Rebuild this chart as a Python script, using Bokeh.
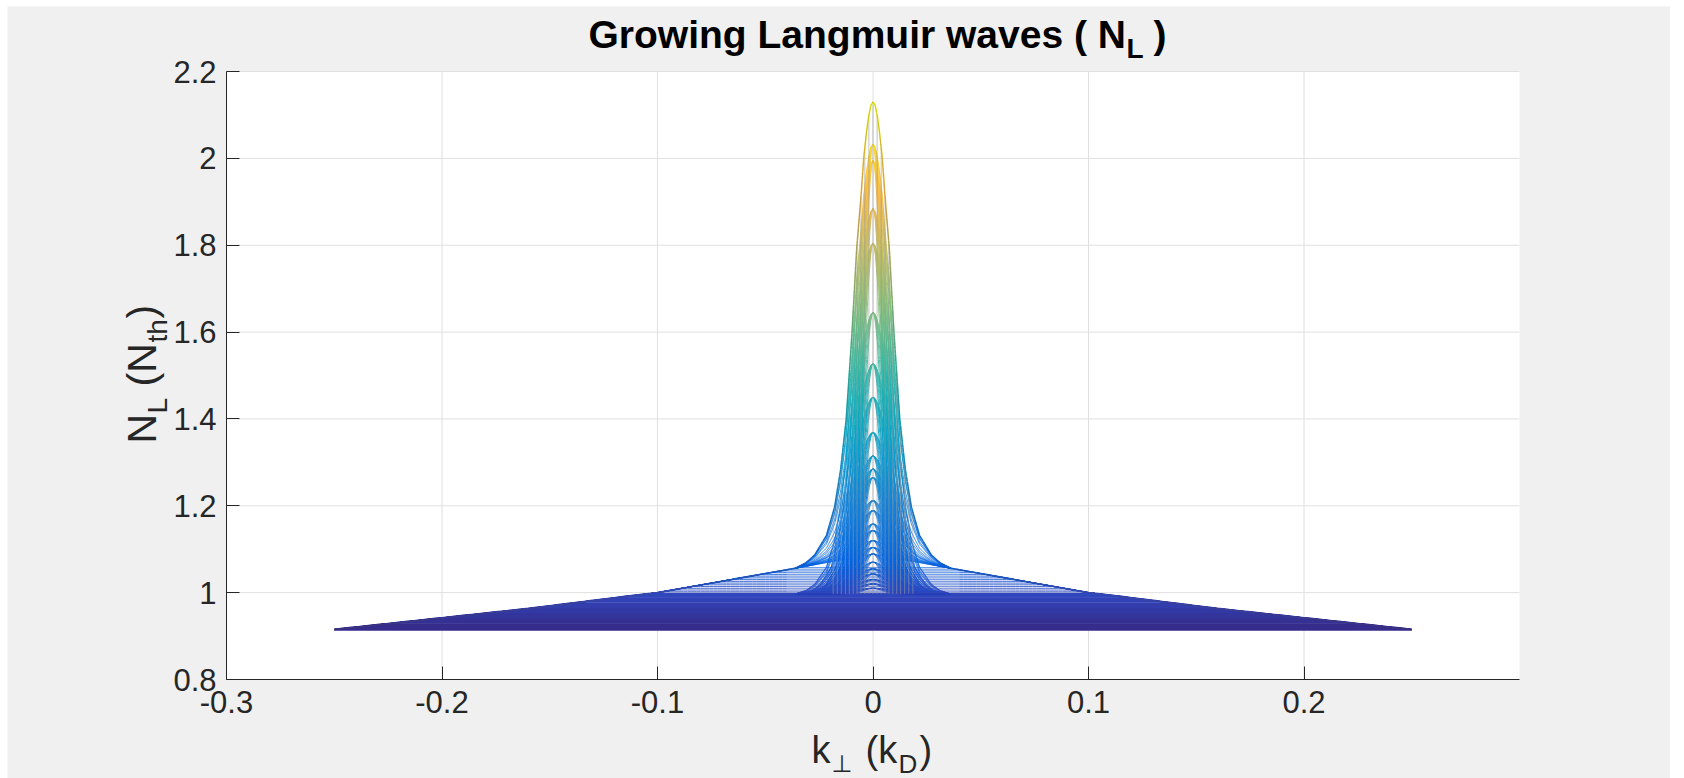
import numpy as np
from bokeh.plotting import figure
from bokeh.models import FixedTicker
from bokeh.core.properties import value
from bokeh.embed import file_html
from bokeh.resources import INLINE

# ---------------- data ----------------
x_limits = [-0.3, 0.3]
y_limits = [0.8, 2.2]
x_ticks = [-0.3, -0.2, -0.1, 0.0, 0.1, 0.2]
x_tick_labels = ["-0.3", "-0.2", "-0.1", "0", "0.1", "0.2"]
y_ticks = [0.8, 1.0, 1.2, 1.4, 1.6, 1.8, 2.0, 2.2]
y_tick_labels = ["0.8", "1", "1.2", "1.4", "1.6", "1.8", "2", "2.2"]

base_level = 0.915          # N_L at |k_perp| = 0.25
peak_level = 2.13           # top of the highest curve at k_perp = 0
# outer tail of the curves (|k_perp|, N_L)
tail_k = [0.0, 0.034, 0.10, 0.16, 0.25]
tail_n = [1.088, 1.058, 1.000, 0.963, 0.915]
# shape of the central peak: fraction of the peak excess vs |k_perp|
peak_profile_k = [0.0, 0.001, 0.002, 0.003, 0.0043, 0.0055, 0.0076, 0.0097, 0.0124,
                  0.015, 0.0178, 0.0216, 0.027, 0.031, 0.036]
peak_profile_f = [1.0, 0.993, 0.97, 0.936, 0.88, 0.80, 0.68, 0.50, 0.31,
                  0.20, 0.12, 0.06, 0.022, 0.008, 0.0]
# flat low-level curves forming the dark band
band_levels = [0.915, 0.919, 0.923, 0.927, 0.931, 0.935, 0.939, 0.943, 0.947, 0.951,
               0.955, 0.959, 0.963, 0.967, 0.971, 0.975, 0.979, 0.983, 0.987, 0.991,
               0.995, 0.997]
# curves just above the band (shoulder region)
shoulder_levels = [1.002, 1.006, 1.010, 1.014, 1.018, 1.022, 1.026, 1.030, 1.034,
                   1.038, 1.042, 1.046, 1.050, 1.054, 1.058]
# peaked curves: their tops at k_perp = 0
arch_floor = 0.997
arch_peaks = [2.033, 1.995, 1.884, 1.804, 1.645, 1.527, 1.45, 1.369, 1.315, 1.285,
              1.265, 1.212, 1.189, 1.158, 1.143, 1.120, 1.104, 1.089, 1.070, 1.055,
              1.043, 1.030, 1.020, 1.010]
arch_widths = [1.0, 0.9, 0.8, 0.7, 0.6, 0.5]
# vertical mesh lines near the centre
column_k = [-0.0185, -0.0166, -0.0147, -0.0128, -0.0110, -0.0092, -0.0074, -0.0056,
            -0.0038, -0.0019, 0.0, 0.0019, 0.0038, 0.0056, 0.0074, 0.0092, 0.0110,
            0.0128, 0.0147, 0.0166, 0.0185]

# ---------------- parula colour map ----------------
PARULA = [
    (0.2081, 0.1663, 0.5292), (0.1959, 0.2645, 0.7279), (0.0117, 0.3875, 0.8820),
    (0.0498, 0.4586, 0.8641), (0.0793, 0.5200, 0.8312), (0.0343, 0.5966, 0.8199),
    (0.0228, 0.6535, 0.7768), (0.0843, 0.6928, 0.7062), (0.2178, 0.7250, 0.6193),
    (0.3953, 0.7459, 0.5244), (0.5709, 0.7485, 0.4494), (0.7184, 0.7411, 0.3905),
    (0.8507, 0.7299, 0.3360), (0.9739, 0.7314, 0.2666), (0.9880, 0.8066, 0.1794),
    (0.9598, 0.9218, 0.0948), (0.9763, 0.9831, 0.0538)]
PPOS = [v / 63.0 for v in [0, 4, 8, 12, 16, 20, 24, 28, 32, 36, 40, 44, 48, 52, 56, 60, 63]]


def pcolor(t):
    t = min(max(t, 0.0), 1.0)
    r = np.interp(t, PPOS, [c[0] for c in PARULA])
    g = np.interp(t, PPOS, [c[1] for c in PARULA])
    b = np.interp(t, PPOS, [c[2] for c in PARULA])
    return "#%02x%02x%02x" % (int(round(r * 255)), int(round(g * 255)), int(round(b * 255)))


def tail(k):
    return np.interp(np.abs(k), tail_k, tail_n)


def profile(k):
    return np.interp(np.abs(k), peak_profile_k, peak_profile_f, right=0.0)


def envelope(k):
    return tail(k) + (peak_level - tail_n[0]) * profile(k)


LO, HI = base_level, peak_level
NB = 96
bin_hex = [pcolor((i + 0.5) / NB) for i in range(NB)]

groups = {}


def new_group(name, width, alpha):
    groups[name] = (width, alpha, [[] for _ in range(NB)], [[] for _ in range(NB)])


def add_curve(name, k, n):
    bx, by = groups[name][2], groups[name][3]
    mid = 0.5 * (n[:-1] + n[1:])
    b = np.clip(((mid - LO) / (HI - LO) * NB).astype(int), 0, NB - 1)
    start = 0
    L = len(b)
    for i in range(1, L + 1):
        if i == L or b[i] != b[start]:
            bx[b[start]].extend(k[start:i + 1].tolist() + [np.nan])
            by[b[start]].extend(n[start:i + 1].tolist() + [np.nan])
            start = i


# sampling grid along k_perp
kp = np.concatenate([np.linspace(0.0, 0.04, 321), np.linspace(0.04, 0.25, 106)[1:]])
kg = np.concatenate([-kp[::-1], kp[1:]])
kmax_peak = peak_profile_k[-1]

new_group("band", 2.2, 1.0)
for F in band_levels:
    add_curve("band", kg, np.minimum(tail(kg), F))

new_group("shoulder", 1.0, 0.85)
for F in shoulder_levels:
    add_curve("shoulder", kg, np.minimum(tail(kg), F))

new_group("arch", 1.0, 0.9)
for s in arch_widths:
    for P in arch_peaks:
        m = np.abs(kg) <= kmax_peak * s
        ks = kg[m]
        n = arch_floor + (P - arch_floor) * profile(ks / s)
        add_curve("arch", ks, np.minimum(n, envelope(ks)))

# peaked curves sitting on the outer tail (fill below the outer flanks)
new_group("tailarch", 1.0, 0.9)
m = np.abs(kg) <= kmax_peak
ks = kg[m]
for P in arch_peaks:
    if P > tail_n[0]:
        add_curve("tailarch", ks, tail(ks) + (P - tail_n[0]) * profile(ks))

new_group("env", 1.6, 1.0)
add_curve("env", kg, envelope(kg))

# ---------------- page geometry (pixels of the page) ----------------
FIG_L, FIG_T, FIG_R, FIG_B = 7, 6, 1670, 778      # grey figure area
AX_L, AX_T, AX_R, AX_B = 226, 71, 1519, 679       # axes box


def dx(X):
    return x_limits[0] + (X - AX_L) * (x_limits[1] - x_limits[0]) / (AX_R - AX_L)


def dy(Y):
    return y_limits[0] + (AX_B - Y) * (y_limits[1] - y_limits[0]) / (AX_B - AX_T)


p = figure(width=FIG_R - FIG_L, height=FIG_B - FIG_T,
           x_range=(dx(FIG_L), dx(FIG_R)), y_range=(dy(FIG_B), dy(FIG_T)),
           output_backend="svg", toolbar_location=None,
           min_border=0, min_border_left=0, min_border_right=0,
           min_border_top=0, min_border_bottom=0,
           border_fill_color="#f0f0f0", background_fill_color="#f0f0f0",
           outline_line_color=None, margin=(FIG_T, 1684 - FIG_R, 0, FIG_L))
p.xgrid.visible = False
p.ygrid.visible = False

FONT = "Liberation Sans"
TXT = "#262626"

# white axes area
p.quad(left=[x_limits[0]], right=[x_limits[1]], bottom=[y_limits[0]], top=[y_limits[1]],
       fill_color="white", line_color=None)

# grid lines
p.segment(x0=x_ticks, y0=[y_limits[0]] * len(x_ticks), x1=x_ticks, y1=[y_limits[1]] * len(x_ticks),
          line_color="#e0e0e0", line_width=1)
p.segment(x0=[x_limits[0]] * len(y_ticks), y0=y_ticks, x1=[x_limits[1]] * len(y_ticks), y1=y_ticks,
          line_color="#e0e0e0", line_width=1)

for ax, ticks, labs, standoff, loc, bnds in (
        (p.xaxis, x_ticks, x_tick_labels, 11, y_limits[0], tuple(x_limits)),
        (p.yaxis, y_ticks, y_tick_labels, 10, x_limits[0], tuple(y_limits))):
    ax.fixed_location = loc
    ax.bounds = bnds
    ax.ticker = FixedTicker(ticks=ticks)
    ax.major_label_overrides = {t: l for t, l in zip(ticks, labs)}
    ax.major_label_text_font = FONT
    ax.major_label_text_font_size = "31px"
    ax.major_label_text_color = TXT
    ax.major_tick_in = 13
    ax.major_tick_out = 0
    ax.minor_tick_in = 0
    ax.minor_tick_out = 0
    ax.axis_line_color = TXT
    ax.major_tick_line_color = TXT
    ax.major_label_standoff = standoff


def draw_group(name):
    w, a, bx, by = groups[name]
    for i in range(NB):
        if bx[i]:
            p.line(np.array(bx[i], dtype=float), np.array(by[i], dtype=float),
                   line_color=bin_hex[i], line_width=w, line_alpha=a)


draw_group("band")
draw_group("shoulder")
draw_group("tailarch")
draw_group("arch")

cx, cy = [], []
for kc in column_k:
    cx += [kc, kc, np.nan]
    cy += [arch_floor, float(envelope(kc)), np.nan]
p.line(np.array(cx), np.array(cy), line_color="#9a9a9a", line_width=1, line_alpha=0.6)

draw_group("env")
p.line(kg, envelope(kg), line_color="#555555", line_width=0.8, line_alpha=0.35)


# ---------------- texts ----------------
def lab(text, X, Y, size, bold=False, angle=0.0, font=FONT, color=TXT):
    p.text(x=[dx(X)], y=[dy(Y)], text=[text], text_font=value(font),
           text_font_size=value(f"{size}px"),
           text_font_style="bold" if bold else "normal",
           text_color=color, angle=angle,
           text_align="left", text_baseline="alphabetic")


# title: Growing Langmuir waves ( N_L )
lab("Growing Langmuir waves ( N", 588, 34, 39, bold=True, color="#000000")
lab("L", 1126, 48, 28, bold=True, color="#000000")
lab(")", 1153, 34, 39, bold=True, color="#000000")

# x label: k_perp (k_D)
lab("k", 811, 749, 38)
lab("\u22a5", 831, 763, 24, font="DejaVu Sans")
lab("(k", 865, 749, 38)
lab("D", 898, 763, 26)
lab(")", 919, 749, 38)

# y label: N_L (N_th)
ang = np.pi / 2
lab("N", 141, 443, 41, angle=ang)
lab("L", 157, 413, 28, angle=ang)
lab("(N", 141, 386, 41, angle=ang)
lab("th", 157, 342, 28, angle=ang)
lab(")", 141, 318, 41, angle=ang)

open("out.html", "w").write(file_html(p, INLINE))
